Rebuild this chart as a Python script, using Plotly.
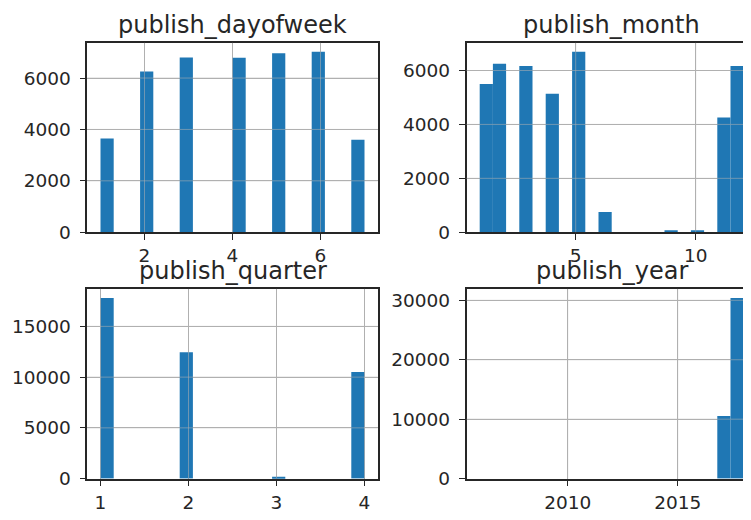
import numpy as np
import plotly.graph_objects as go

# ---- data (value -> number of articles) ----
dow_values = [1, 2, 3, 4, 5, 6, 7]
dow_counts = [3650, 6250, 6800, 6790, 6960, 7020, 3600]

month_values = [1, 2, 3, 4, 5, 6, 7, 8, 9, 10, 11, 12]
month_counts = [5500, 6255, 6170, 5135, 6693, 755, 0, 0, 70, 70, 4255, 6170]

quarter_values = [1, 2, 3, 4]
quarter_counts = [17800, 12460, 190, 10500]

year_values = [2017, 2018]
year_counts = [10550, 30400]

# data limits of each column (min, max) used by the histogram binning
data_limits = [(1, 7), (1, 12), (1, 4), (2006, 2018)]

titles = ["publish_dayofweek", "publish_month", "publish_quarter", "publish_year"]
x_ticks = [[2, 4, 6], [5, 10], [1, 2, 3, 4], [2010, 2015]]
y_ticks = [[0, 2000, 4000, 6000], [0, 2000, 4000, 6000],
           [0, 5000, 10000, 15000], [0, 10000, 20000, 30000]]
N_BINS = 20

series = [(dow_values, dow_counts), (month_values, month_counts),
          (quarter_values, quarter_counts), (year_values, year_counts)]

# ---- layout (pixels, figure coordinates; page adds an 8px body margin) ----
W, H = 743, 512
left_col = (79.3, 369.7)
full_w = left_col[1] - left_col[0]
right_x0 = 458.5
top_row = (35.5, 228.7)
bot_row = (286.5, 480.0)

panels = [
    (left_col[0], left_col[1], top_row),
    (right_x0, right_x0 + full_w, top_row),
    (left_col[0], left_col[1], bot_row),
    (right_x0, right_x0 + full_w, bot_row),
]

BLUE = "#1f77b4"
INK = "#262626"
GRID = "#b0b0b0"
FONT = "DejaVu Sans"

fig = go.Figure()
shapes = []
annotations = []
layout = {}

for i, ((vals, cnts), (x0, x1, (ytop, ybot))) in enumerate(zip(series, panels)):
    n = i + 1
    xa = "xaxis" if n == 1 else f"xaxis{n}"
    ya = "yaxis" if n == 1 else f"yaxis{n}"
    xref = "x" if n == 1 else f"x{n}"
    yref = "y" if n == 1 else f"y{n}"

    hist, edges = np.histogram(vals, bins=N_BINS, weights=cnts,
                               range=data_limits[i])
    fig.add_trace(go.Bar(x=edges[:-1], y=hist, width=np.diff(edges), offset=0,
                         marker=dict(color=BLUE, line=dict(width=0)),
                         xaxis=xref, yaxis=yref, showlegend=False))

    span = edges[-1] - edges[0]
    lo = edges[0] - 0.05 * span
    hi = edges[-1] + 0.05 * span
    vis_x1 = min(x1, W)
    frac = (vis_x1 - x0) / (x1 - x0)
    hi_vis = lo + (hi - lo) * frac
    cropped = vis_x1 < x1

    layout[xa] = dict(
        domain=[x0 / W, vis_x1 / W], range=[lo, hi_vis], anchor=yref,
        tickvals=x_ticks[i], ticks="outside", ticklen=6, tickwidth=1.3,
        tickcolor=INK, showline=True, linecolor=INK, linewidth=1.5,
        mirror=True, showgrid=True, gridcolor=GRID, gridwidth=1,
        zeroline=False, tickfont=dict(family=FONT, size=18.5, color=INK),
    )
    layout[ya] = dict(
        domain=[1 - ybot / H, 1 - ytop / H], range=[0, 1.05 * hist.max()],
        anchor=xref, tickvals=y_ticks[i], tickformat="d", ticks="outside",
        ticklen=6, tickwidth=1.3, tickcolor=INK, showline=True,
        linecolor=INK, linewidth=1.5, mirror=(not cropped), showgrid=True,
        gridcolor=GRID, gridwidth=1, zeroline=False, ticklabelstandoff=5,
        tickfont=dict(family=FONT, size=18.5, color=INK),
    )

    # matplotlib draws grid lines over the bars
    for yv in y_ticks[i][1:]:
        shapes.append(dict(type="line", xref=f"{xref} domain", yref=yref,
                           x0=0, x1=1, y0=yv, y1=yv, layer="above",
                           line=dict(color="rgba(176,176,176,0.55)", width=1)))
    for xv in x_ticks[i]:
        shapes.append(dict(type="line", xref=xref, yref=f"{yref} domain",
                           x0=xv, x1=xv, y0=0, y1=1, layer="above",
                           line=dict(color="rgba(176,176,176,0.55)", width=1)))

    annotations.append(dict(
        text=titles[i], xref="paper", yref="paper",
        x=((x0 + x1) / 2) / W, y=1 - ytop / H, xanchor="center",
        yanchor="middle", yshift=18, showarrow=False,
        font=dict(family=FONT, size=24, color=INK),
    ))

fig.update_layout(
    width=W, height=H, margin=dict(l=0, r=0, t=0, b=0),
    paper_bgcolor="white", plot_bgcolor="white",
    shapes=shapes, annotations=annotations, **layout,
)

fig.write_html("out.html")
